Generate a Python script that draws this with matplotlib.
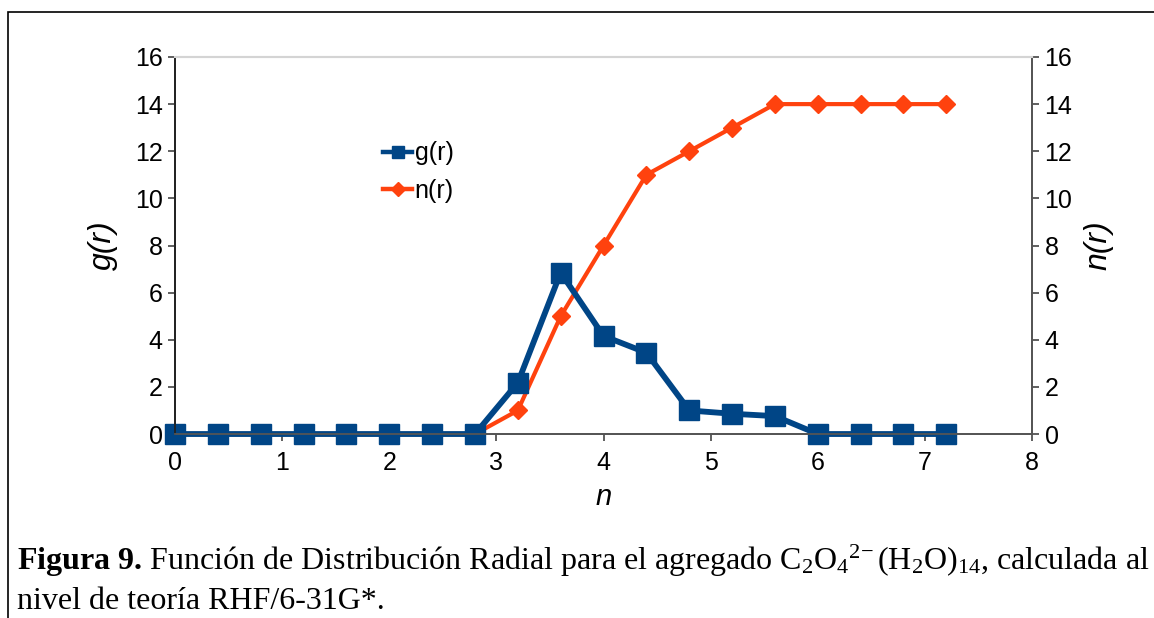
import matplotlib
matplotlib.use('Agg')
import matplotlib.pyplot as plt
from matplotlib.lines import Line2D
from matplotlib.patches import Rectangle

plt.rcParams['font.family'] = ['Liberation Sans', 'DejaVu Sans']
plt.rcParams['mathtext.fontset'] = 'custom'
plt.rcParams['mathtext.rm'] = 'Liberation Serif'
plt.rcParams['mathtext.it'] = 'Liberation Serif:italic'
plt.rcParams['mathtext.bf'] = 'Liberation Serif:bold'

# radial distribution data
r = [0.0, 0.4, 0.8, 1.2, 1.6, 2.0, 2.4, 2.8, 3.2, 3.6,
     4.0, 4.4, 4.8, 5.2, 5.6, 6.0, 6.4, 6.8, 7.2]
g_r = [0, 0, 0, 0, 0, 0, 0, 0, 2.18, 6.85,
       4.16, 3.45, 1.0, 0.86, 0.76, 0, 0, 0, 0]
n_r = [0, 0, 0, 0, 0, 0, 0, 0, 1, 5,
       8, 11, 12, 13, 14, 14, 14, 14, 14]
x_ticks = [0, 1, 2, 3, 4, 5, 6, 7, 8]
y_ticks = [0, 2, 4, 6, 8, 10, 12, 14, 16]

BLUE = '#004586'
ORANGE = '#ff420e'
TICK_FS = 18

fig = plt.figure(figsize=(11.54, 6.18), dpi=100)
ax = fig.add_axes([0.1517, 0.2977, 0.7426, 0.6101])
ax2 = ax.twinx()
# keep g(r) drawn over n(r)
ax.set_zorder(ax2.get_zorder() + 1)
ax.patch.set_visible(False)

ax2.plot(r, n_r, color=ORANGE, lw=3.0, marker='D', ms=9, mec=ORANGE,
         solid_joinstyle='miter', clip_on=False)
ax.plot(r, g_r, color=BLUE, lw=4.2, marker='s', ms=14, mec=BLUE,
        solid_joinstyle='miter', clip_on=False)

for a in (ax, ax2):
    a.set_xlim(0, 8)
    a.set_ylim(0, 16)
    a.set_yticks(y_ticks)
    a.tick_params(axis='y', direction='out', length=5, width=1.2,
                  color='#444444', labelsize=TICK_FS, pad=4)
    a.spines['top'].set_color('#d4d4d4')
    a.spines['top'].set_linewidth(1.5)
    a.spines['bottom'].set_color('#555555')
    a.spines['bottom'].set_linewidth(1.3)
    a.spines['left'].set_color('#222222')
    a.spines['left'].set_linewidth(1.3)
    a.spines['right'].set_color('#555555')
    a.spines['right'].set_linewidth(1.3)

ax.set_xticks(x_ticks)
ax.tick_params(axis='x', direction='out', length=5, width=1.2,
               color='#444444', labelsize=TICK_FS, pad=7)

ax.set_xlabel('n', fontsize=21, style='italic', labelpad=6)
ax.set_ylabel('g(r)', fontsize=23, style='italic', labelpad=12)
ax2.set_ylabel('n(r)', fontsize=23, style='italic', labelpad=8, rotation=90)

handles = [
    Line2D([], [], color=BLUE, lw=3.2, marker='s', ms=9),
    Line2D([], [], color=ORANGE, lw=3.2, marker='D', ms=7),
]
ax.legend(handles, ['g(r)', 'n(r)'], loc='upper left',
          bbox_to_anchor=(0.243, 0.776), frameon=False, fontsize=TICK_FS,
          handlelength=1.15, handletextpad=0.1, labelspacing=0.55,
          borderpad=0, borderaxespad=0)

# page frame around the figure
fig.patches.append(Rectangle((7.5 / 1154, -0.2), 1.2, 1.2 - 11.5 / 618,
                             transform=fig.transFigure, fill=False,
                             lw=1.2, edgecolor='black', clip_on=False))

cap_font = {'family': 'Liberation Serif', 'fontsize': 23}
fig.text(17 / 1154, 1 - 570 / 618,
         r'$\mathbf{Figura\ 9.}\,$Función de Distribución Radial para el agregado '
         r'C$_2$O$_4$$^{2\!-}$(H$_2$O)$_{14}$, calculada al',
         va='baseline', ha='left', **cap_font)
fig.text(17 / 1154, 1 - 609 / 618, 'nivel de teoría RHF/6-31G*.',
         va='baseline', ha='left', **cap_font)

fig.savefig('out.png', dpi=100)
